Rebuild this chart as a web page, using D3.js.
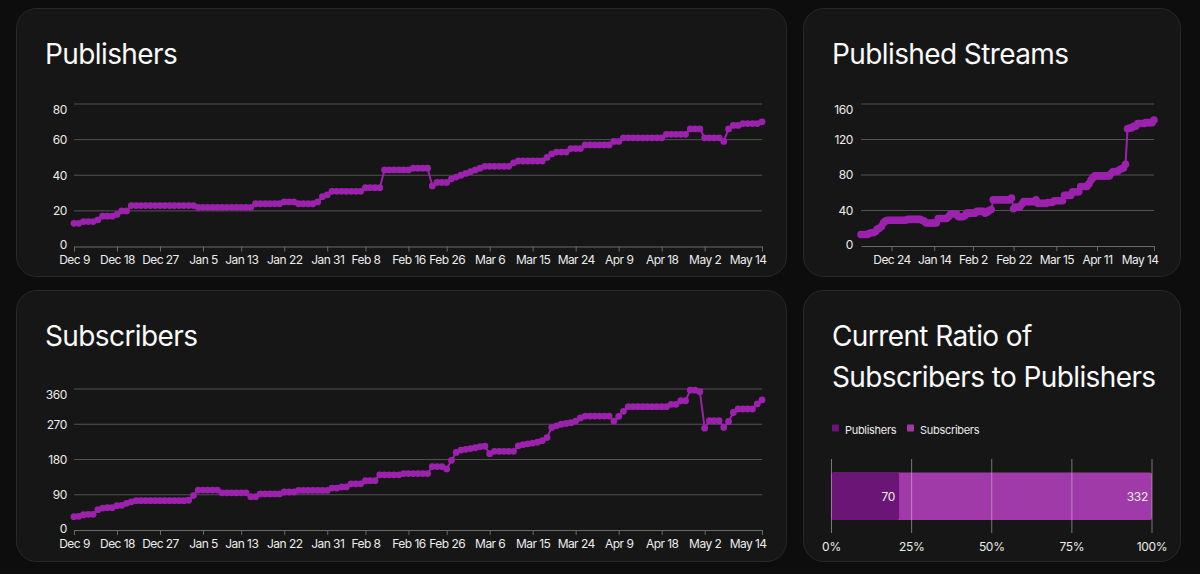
<!DOCTYPE html>
<html><head><meta charset="utf-8">
<script src="https://cdn.jsdelivr.net/npm/d3@7"></script>
<style>
html,body{margin:0;padding:0;background:#0d0d0d;}
svg{display:block;}
text{font-family:Inter,"Noto Sans",sans-serif;}
</style></head><body>
<svg id="c" width="1200" height="574"></svg>
<script>
// ---------- DATA ----------
const dateTickIdx = [0,9,18,27,35,44,53,61,70,78,87,96,105,114,123,132,144];
const dateTickLabels = ["Dec 9","Dec 18","Dec 27","Jan 5","Jan 13","Jan 22","Jan 31","Feb 8","Feb 16","Feb 26","Mar 6","Mar 15","Mar 24","Apr 9","Apr 18","May 2","May 14"];
const streamTickIdx = [15,36,55,75,96,116,144];
const streamTickLabels = ["Dec 24","Jan 14","Feb 2","Feb 22","Mar 15","Apr 11","May 14"];

const publishers = [
13,13,14,14,14,15,17,17,17,18,
20,20,23,23,23,23,23,23,23,23,
23,23,23,23,23,23,22,22,22,22,
22,22,22,22,22,22,22,22,24,24,
24,24,24,24,25,25,25,24,24,24,
24,25,28,29,31,31,31,31,31,31,
31,33,33,33,33,43,43,43,43,43,
43,44,44,44,44,34,36,36,36,38,
39,40,41,42,43,44,45,45,45,45,
45,45,47,48,48,48,48,48,48,50,
52,53,53,53,55,55,55,57,57,57,
57,57,57,59,59,61,61,61,61,61,
61,61,61,61,63,63,63,63,63,66,
66,66,61,61,61,61,59,66,68,68,
69,69,69,69,70];

const subscribers = [
34,35,39,40,40,52,56,57,57,62,
63,68,72,75,75,75,75,75,75,75,
75,75,75,75,76,88,102,102,102,102,
102,95,95,95,95,95,95,85,85,92,
92,92,92,92,97,97,97,101,101,101,
101,101,101,101,107,107,110,110,118,118,
118,126,126,126,141,141,141,141,141,144,
144,144,144,144,144,162,162,162,156,178,
198,204,206,208,210,213,214,195,201,201,
201,201,201,215,218,220,222,224,228,236,
262,266,270,272,274,278,286,291,291,291,
291,291,291,278,290,303,315,315,315,315,
315,315,315,315,315,321,321,330,330,357,
357,353,260,279,279,279,262,277,300,309,
309,309,309,322,332];

const streams = [
13,13,13,13,14,15,15,16,19,20,
22,26,28,29,29,29,29,29,29,29,
29,29,29,30,30,30,30,30,30,30,
29,28,26,26,26,26,26,26,31,31,
31,31,31,33,36,36,36,36,33,33,
33,34,37,37,37,37,37,39,39,39,
39,37,38,40,41,52,52,52,52,52,
52,52,52,52,54,42,44,44,44,47,
50,50,50,50,50,50,52,48,48,48,
48,48,49,49,49,51,51,51,51,51,
57,57,57,57,61,61,61,61,67,67,
67,67,70,74,77,79,79,79,79,79,
79,79,79,82,84,84,84,86,87,88,
92,132,133,133,135,135,138,138,138,138,
139,139,139,139,142];

const publisherYTicks = [0,20,40,60,80];
const subscriberYTicks = [0,90,180,270,360];
const streamYTicks = [0,40,80,120,160];

const ratioCategories = ["Publishers","Subscribers"];
const ratioValues = [70, 332];
const ratioTicks = [0, 0.25, 0.5, 0.75, 1];

// ---------- STYLE ----------
const LINE = "#9c22ae";
const RATIO_COLORS = ["#6b1577", "#a13aa9"];
const GRID = "#525252";
const TXT = "#ececec";
const FONT = "Inter,'Noto Sans',sans-serif";

const svg = d3.select("#c");

// cards
const cards = [
  {x:16.5,y:8.5,w:770,h:268,title:["Publishers"]},
  {x:803.5,y:8.5,w:377,h:268,title:["Published Streams"]},
  {x:16.5,y:290.5,w:770,h:271,title:["Subscribers"]},
  {x:803.5,y:290.5,w:377,h:271,title:["Current Ratio of","Subscribers to Publishers"]}
];
cards.forEach(c=>{
  svg.append("rect").attr("x",c.x).attr("y",c.y).attr("width",c.w).attr("height",c.h)
    .attr("rx",20).attr("fill","#161616").attr("stroke","#282828").attr("stroke-width",1);
  c.title.forEach((t,i)=>{
    svg.append("text").attr("x",c.x+28.5).attr("y",c.y+55.5+i*41)
      .attr("fill","#fafafa").attr("font-size",28).attr("letter-spacing","-0.6px").text(t);
  });
});

function lineChart(cfg){
  const g = svg.append("g");
  const x = d3.scaleLinear().domain([0,cfg.values.length-1]).range([cfg.x0,cfg.x1]);
  const y = d3.scaleLinear().domain([0,cfg.yMax]).range([cfg.yBase,cfg.yTop]);
  // grid
  g.selectAll("line.grid").data(cfg.yTicks.filter(d=>d>0)).join("line")
    .attr("x1",cfg.x0).attr("x2",cfg.x1)
    .attr("y1",d=>y(d)).attr("y2",d=>y(d))
    .attr("stroke",GRID).attr("stroke-width",1);
  // x axis
  const xa = g.append("g").attr("transform",`translate(0,${cfg.yBase})`)
    .call(d3.axisBottom(x).tickValues(cfg.tickIdx)
      .tickFormat((d,i)=>cfg.tickLabels[i]).tickSize(5).tickSizeOuter(0).tickPadding(4));
  xa.select(".domain").attr("stroke","#6a6a6a");
  xa.selectAll(".tick line").attr("stroke","#6a6a6a");
  xa.selectAll("text").attr("fill",TXT).attr("font-size",12).attr("letter-spacing","-0.55px")
    .attr("font-family",FONT);
  const last = cfg.values.length-1;
  xa.selectAll(".tick").filter(d=>d===last).select("text")
    .attr("text-anchor","end").attr("x",4);
  // y axis
  const ya = g.append("g").attr("transform",`translate(${cfg.x0},0)`)
    .call(d3.axisLeft(y).tickValues(cfg.yTicks).tickSize(0).tickPadding(cfg.pad));
  ya.select(".domain").remove();
  ya.selectAll("text").attr("fill",TXT).attr("font-size",12).attr("letter-spacing","-0.4px")
    .attr("font-family",FONT)
    .attr("dy",d=> d===cfg.yMax ? "0.78em" : (d===0 ? "0.2em" : "0.32em"));
  // line + dots
  g.append("path").datum(cfg.values)
    .attr("d",d3.line().x((d,i)=>x(i)).y(d=>y(d)))
    .attr("fill","none").attr("stroke",LINE).attr("stroke-width",2);
  g.selectAll("circle").data(cfg.values).join("circle")
    .attr("cx",(d,i)=>x(i)).attr("cy",d=>y(d)).attr("r",cfg.r).attr("fill",LINE);
}

lineChart({values:publishers,tickIdx:dateTickIdx,tickLabels:dateTickLabels,yTicks:publisherYTicks,
  yMax:80,x0:74,x1:762,yBase:246.5,yTop:104,pad:7,r:3.4});
lineChart({values:subscribers,tickIdx:dateTickIdx,tickLabels:dateTickLabels,yTicks:subscriberYTicks,
  yMax:360,x0:74,x1:762,yBase:530,yTop:389,pad:7,r:3.4});
lineChart({values:streams,tickIdx:streamTickIdx,tickLabels:streamTickLabels,yTicks:streamYTicks,
  yMax:160,x0:861,x1:1154,yBase:246,yTop:104,pad:8,r:3.8});

// ratio chart
(function(){
  const g = svg.append("g");
  const xr = d3.scaleLinear().domain([0,d3.max(ratioValues)]).range([831.5,1152]);
  const barY = 472.5, barH = 47.5;
  // legend
  const lx = [832, 907];
  ratioCategories.forEach((c,i)=>{
    g.append("rect").attr("x",lx[i]).attr("y",424.5).attr("width",7).attr("height",7).attr("rx",1)
      .attr("fill",RATIO_COLORS[i]);
    g.append("text").attr("x",lx[i]+13).attr("y",433.5).attr("fill",TXT).attr("font-size",11)
      .attr("letter-spacing","-0.3px").text(c);
  });
  // bars: subscribers full, publishers on top
  [1,0].forEach(i=>{
    g.append("rect").attr("x",xr(0)).attr("y",barY).attr("width",xr(ratioValues[i])-xr(0))
      .attr("height",barH).attr("rx",2).attr("fill",RATIO_COLORS[i]);
    g.append("text").attr("x",xr(ratioValues[i])-4).attr("y",barY+barH/2+4.5)
      .attr("text-anchor","end").attr("fill",TXT).attr("font-size",12).attr("letter-spacing","-0.3px")
      .text(ratioValues[i]);
  });
  // grid lines
  const max = d3.max(ratioValues);
  g.selectAll("line.v").data(ratioTicks).join("line")
    .attr("x1",d=>xr(d*max)).attr("x2",d=>xr(d*max))
    .attr("y1",459).attr("y2",533)
    .attr("stroke","rgba(200,200,200,0.55)").attr("stroke-width",1);
  g.selectAll("text.p").data(ratioTicks).join("text")
    .attr("x",d=>xr(d*max)).attr("y",551).attr("text-anchor","middle")
    .attr("fill",TXT).attr("font-size",12).attr("letter-spacing","-0.3px")
    .text(d=>d3.format(".0%")(d));
})();
</script>
</body></html>
